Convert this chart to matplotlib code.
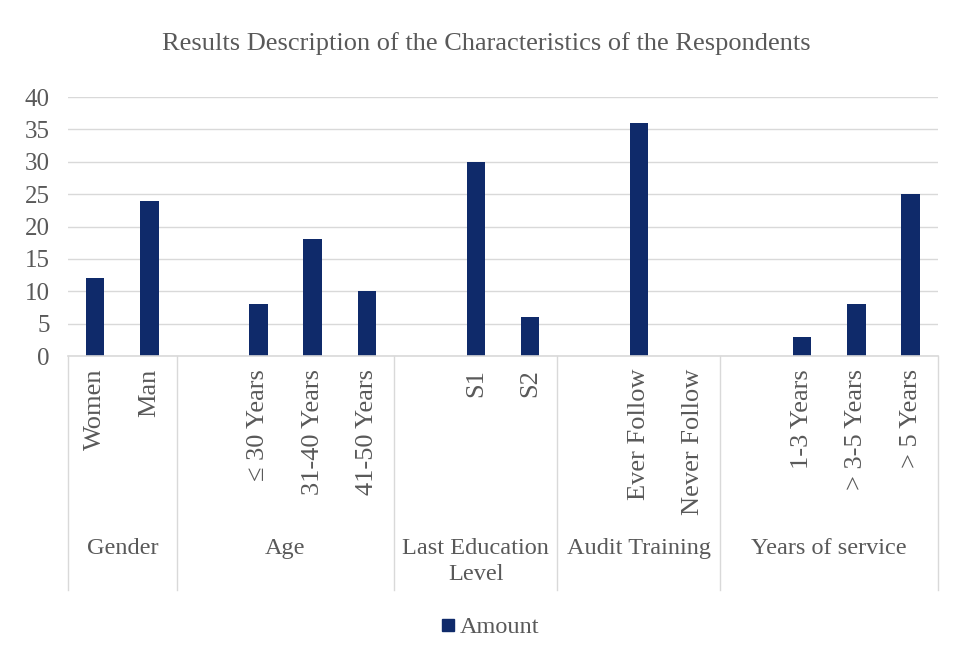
import matplotlib
matplotlib.use('Agg')
import matplotlib.pyplot as plt
from matplotlib.lines import Line2D

plt.rcParams['font.family'] = ['Liberation Serif', 'DejaVu Serif']

# data: blank slots ("") separate the groups like in the Excel chart
categories = ["Women", "Man",
              "", "≤ 30 Years", "31-40 Years", "41-50 Years",
              "", "S1", "S2",
              "", "Ever Follow", "Never Follow",
              "", "1-3 Years", "> 3-5 Years", "> 5 Years"]
amounts = [12, 24,
           None, 8, 18, 10,
           None, 30, 6,
           None, 36, 0,
           None, 3, 8, 25]
group_names = ["Gender", "Age", "Last Education\nLevel", "Audit Training", "Years of service"]
group_sizes = [2, 4, 3, 3, 4]
yticks = [0, 5, 10, 15, 20, 25, 30, 35, 40]

bar_color = '#0f2a6a'
text_color = '#595959'
grid_color = '#d9d9d9'

fig = plt.figure(figsize=(9.59, 6.6), dpi=100)
ax = fig.add_axes([0.0709, 0.4606, 0.9071, 0.3924])

xs = [i for i, v in enumerate(amounts) if v is not None]
vals = [v for v in amounts if v is not None]
ax.bar(xs, vals, width=0.34, color=bar_color, zorder=3)

ax.set_xlim(-0.5, len(categories) - 0.5)
ax.set_ylim(0, 40)
ax.set_yticks(yticks)
ax.set_xticks([])
ax.grid(axis='y', color=grid_color, linewidth=1, zorder=0)
for s in ax.spines.values():
    s.set_visible(False)
ax.tick_params(axis='y', length=0, labelsize=18, labelcolor=text_color, pad=13)

trans = ax.get_xaxis_transform()
ax.plot([-0.5, len(categories) - 0.5], [0, 0], color=grid_color, lw=1.2,
        transform=trans, clip_on=False, zorder=4)

# category labels (rotated)
for i, lab in enumerate(categories):
    if lab:
        ax.text(i, -0.05, lab, rotation=90, ha='center', va='top',
                fontsize=19, color=text_color, transform=trans)

# group separators and labels
bounds = [-0.5]
for n in group_sizes:
    bounds.append(bounds[-1] + n)
for b in bounds:
    ax.plot([b, b], [0, -0.9035], color=grid_color, lw=1,
            transform=trans, clip_on=False)
for name, a, b in zip(group_names, bounds[:-1], bounds[1:]):
    ax.text((a + b) / 2, -0.703, name, ha='center', va='top', fontsize=17.5,
            color=text_color, transform=trans, linespacing=1.3)

fig.text(0.507, 0.934, "Results Description of the Characteristics of the Respondents",
         ha='center', va='center', fontsize=19, color=text_color)

handle = Line2D([], [], marker='s', linestyle='none', color=bar_color, markersize=8)
fig.legend([handle], ["Amount"], loc='center', bbox_to_anchor=(0.51, 0.05),
           frameon=False, fontsize=17.5, labelcolor=text_color,
           handletextpad=0.1, handlelength=0.8)

fig.savefig('out.png', dpi=100)
